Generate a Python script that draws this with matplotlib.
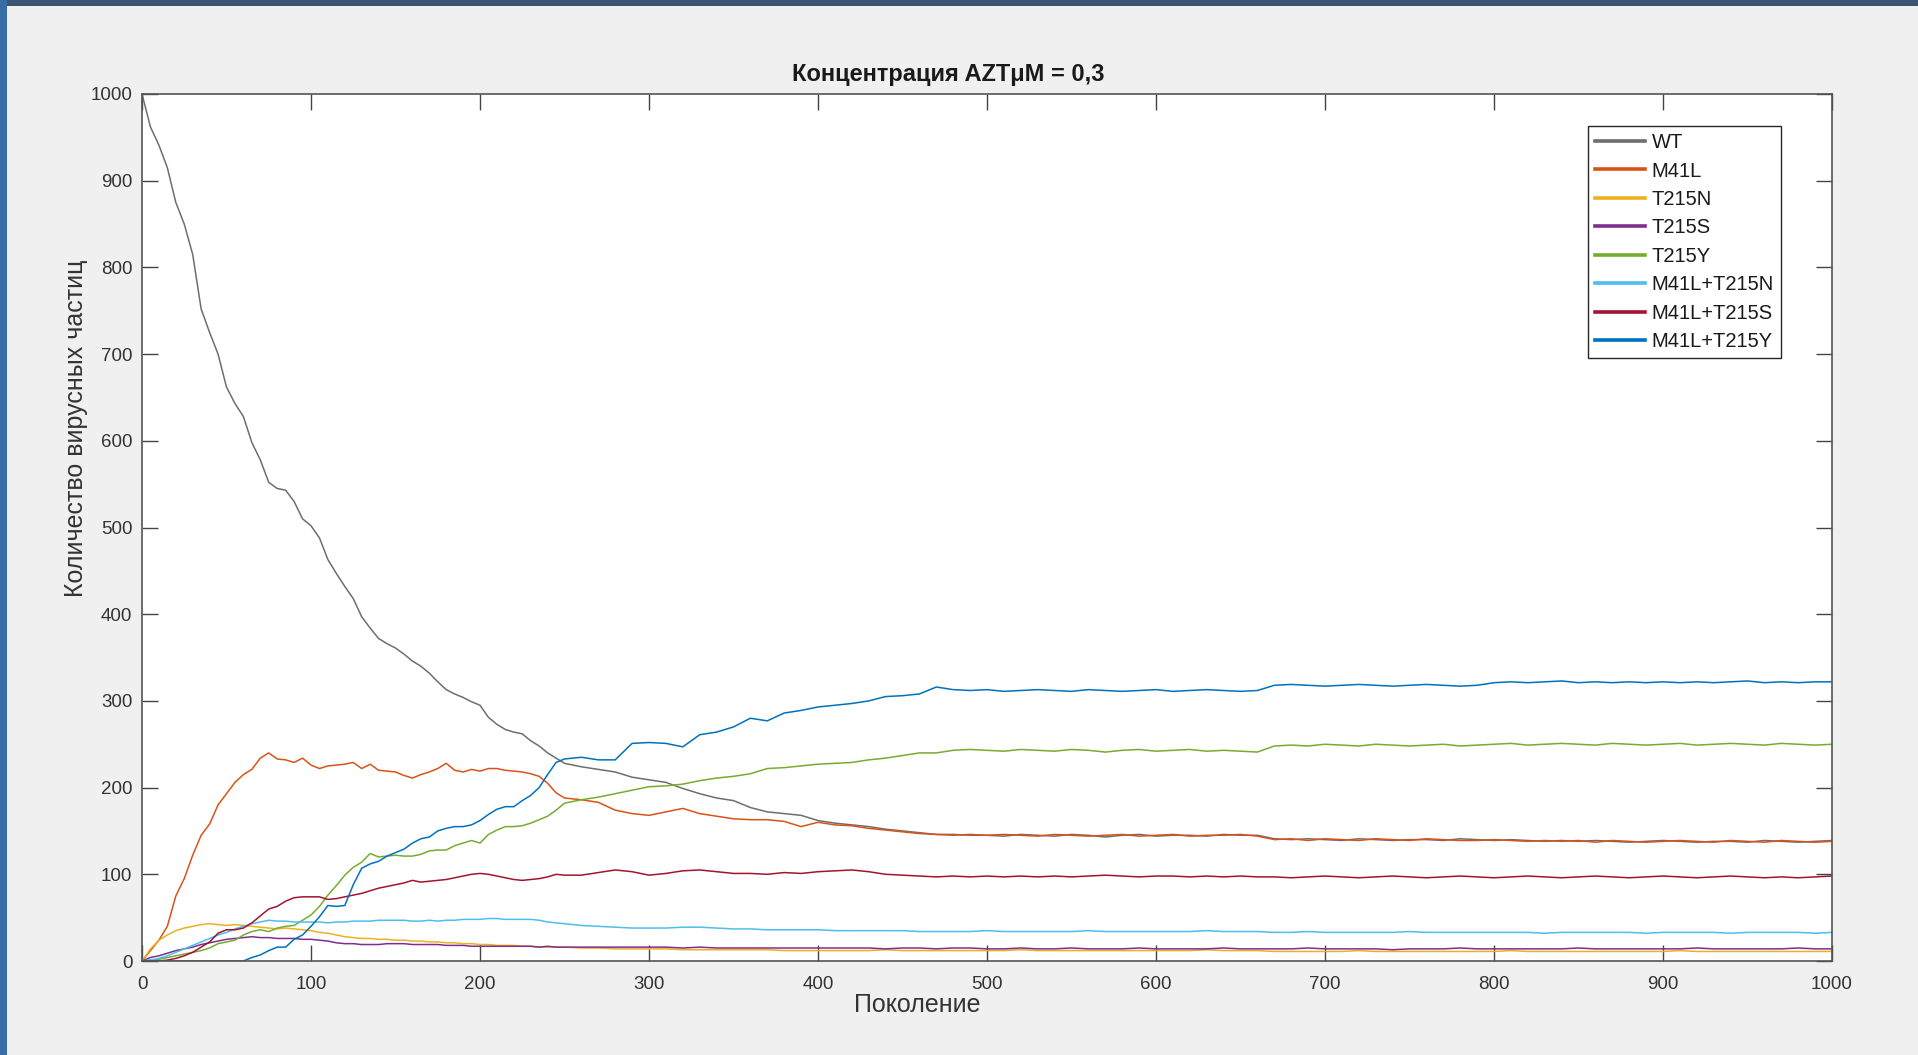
import numpy as np
import matplotlib
matplotlib.use("Agg")
import matplotlib.pyplot as plt
from matplotlib.patches import Rectangle

plt.rcParams['font.family'] = ['Liberation Sans', 'DejaVu Sans']

# Generation grid: every 5 generations up to 250, then every 10
gen = np.concatenate([np.arange(0, 251, 5), np.arange(260, 1001, 10)])

wt = [1000, 962, 941, 915, 875, 850, 815, 752, 725, 700,
      662, 643, 628, 598, 578, 552, 545, 543, 530, 510,
      502, 488, 463, 447, 432, 418, 397, 384, 372, 366,
      361, 354, 346, 340, 332, 322, 313, 308, 304, 299,
      295, 281, 273, 267, 264, 262, 254, 248, 240, 234,
      228,
      224, 221, 218, 212, 209, 206, 199, 193, 188, 185, 177, 172, 170, 168, 162,
      159, 157, 155, 152, 150, 148, 146, 146, 145, 145, 144, 146, 145, 144, 146,
      145, 143, 145, 146, 144, 145, 145, 144, 146, 145, 145,
      141, 140, 141, 140, 139, 141, 140, 139, 140, 140, 139, 141, 140, 139, 140,
      139, 138, 139, 138, 139, 138, 137, 138, 139, 138, 137, 138, 138, 137, 139,
      138, 137, 138, 139]

m41l = [0, 12, 24, 40, 75, 95, 122, 145, 158, 180,
        193, 206, 215, 221, 234, 240, 233, 232, 229, 234,
        226, 222, 225, 226, 227, 229, 222, 227, 220, 219,
        218, 214, 211, 215, 218, 222, 228, 220, 218, 221,
        219, 222, 222, 220, 219, 218, 216, 213, 205, 194,
        188,
        186, 183, 174, 170, 168, 172, 176, 170, 167, 164, 163, 163, 161, 155, 160,
        157, 156, 153, 151, 149, 147, 146, 145, 146, 145, 146, 145, 144, 146, 145,
        144, 145, 146, 144, 145, 146, 144, 145, 145, 146, 144,
        140, 141, 139, 141, 140, 139, 141, 140, 139, 141, 140, 139, 139, 140, 139,
        138, 139, 138, 139, 137, 139, 138, 137, 138, 139, 138, 137, 139, 138, 137,
        139, 138, 137, 138]

t215n = [0, 14, 24, 30, 35, 38, 40, 42, 43, 42,
         41, 42, 41, 40, 39, 38, 37, 38, 37, 36,
         35, 33, 32, 30, 28, 27, 26, 26, 25, 25,
         24, 24, 23, 23, 22, 22, 21, 21, 20, 20,
         19, 19, 18, 18, 18, 17, 17, 16, 16, 16,
         16,
         15, 15, 14, 14, 14, 14, 13, 13, 13, 13, 13, 13, 12, 12, 12,
         12, 12, 12, 13, 12, 12, 12, 12, 12, 12, 12, 13, 12, 12, 12,
         12, 12, 12, 12, 12, 12, 12, 13, 12, 12, 12,
         11, 11, 11, 11, 11, 12, 11, 11, 11, 11, 11, 11, 11, 11, 12,
         11, 11, 11, 11, 11, 11, 11, 11, 11, 12, 11, 11, 11, 11, 11,
         11, 11, 11, 11]

t215s = [0, 4, 6, 9, 12, 14, 16, 19, 21, 23,
         25, 26, 27, 28, 27, 27, 26, 26, 26, 25,
         25, 24, 23, 21, 20, 20, 19, 19, 19, 20,
         20, 20, 19, 19, 19, 19, 18, 18, 18, 17,
         17, 17, 17, 17, 17, 17, 17, 16, 17, 16,
         16,
         16, 16, 16, 16, 16, 16, 15, 16, 15, 15, 15, 15, 15, 15, 15,
         15, 15, 15, 14, 15, 15, 14, 15, 15, 14, 14, 15, 14, 14, 15,
         14, 14, 14, 15, 14, 14, 14, 14, 15, 14, 14,
         14, 14, 15, 14, 14, 14, 14, 13, 14, 14, 14, 15, 14, 14, 14,
         14, 14, 14, 15, 14, 14, 14, 14, 14, 14, 15, 14, 14, 14, 14,
         14, 15, 14, 14]

t215y = [0, 1, 2, 4, 6, 8, 10, 12, 15, 20,
         22, 24, 30, 34, 36, 34, 38, 40, 41, 47,
         53, 63, 76, 87, 99, 108, 114, 124, 120, 121,
         122, 121, 121, 123, 127, 128, 128, 133, 136, 139,
         136, 146, 151, 155, 155, 156, 159, 163, 167, 174,
         182,
         186, 189, 193, 197, 201, 202, 204, 208, 211, 213, 216, 222, 223, 225, 227,
         228, 229, 232, 234, 237, 240, 240, 243, 244, 243, 242, 244, 243, 242, 244,
         243, 241, 243, 244, 242, 243, 244, 242, 243, 242, 241,
         248, 249, 248, 250, 249, 248, 250, 249, 248, 249, 250, 248, 249, 250, 251,
         249, 250, 251, 250, 249, 251, 250, 249, 250, 251, 249, 250, 251, 250, 249,
         251, 250, 249, 250]

m41l_t215n = [0, 1, 3, 6, 10, 14, 18, 22, 26, 30,
              33, 37, 40, 43, 45, 47, 46, 46, 45, 45,
              45, 45, 44, 45, 45, 46, 46, 46, 47, 47,
              47, 47, 46, 46, 47, 46, 47, 47, 48, 48,
              48, 49, 49, 48, 48, 48, 48, 47, 45, 44,
              43,
              41, 40, 39, 38, 38, 38, 39, 39, 38, 37, 37, 36, 36, 36, 36,
              35, 35, 35, 35, 35, 34, 34, 34, 34, 35, 34, 34, 34, 34, 34,
              35, 34, 34, 34, 34, 34, 34, 35, 34, 34, 34,
              33, 33, 34, 33, 33, 33, 33, 33, 34, 33, 33, 33, 33, 33, 33,
              33, 32, 33, 33, 33, 33, 33, 32, 33, 33, 33, 33, 32, 33, 33,
              33, 33, 32, 33]

m41l_t215s = [0, 0, 0, 1, 3, 6, 10, 16, 22, 32,
              36, 36, 38, 44, 52, 60, 63, 69, 73, 74,
              74, 74, 71, 72, 74, 76, 78, 81, 84, 86,
              88, 90, 93, 91, 92, 93, 94, 96, 98, 100,
              101, 100, 98, 96, 94, 93, 94, 95, 97, 100,
              99,
              99, 102, 105, 103, 99, 101, 104, 105, 103, 101, 101, 100, 102, 101, 103,
              104, 105, 103, 100, 99, 98, 97, 98, 97, 98, 97, 98, 97, 98, 97,
              98, 99, 98, 97, 98, 98, 97, 98, 97, 98, 97,
              97, 96, 97, 98, 97, 96, 97, 98, 97, 96, 97, 98, 97, 96, 97,
              98, 97, 96, 97, 98, 97, 96, 97, 98, 97, 96, 97, 98, 97, 96,
              97, 96, 97, 98]

m41l_t215y = [0, 0, 0, 0, 0, 0, 0, 0, 0, 0,
              0, 0, 0, 4, 7, 12, 16, 16, 25, 30,
              40, 51, 64, 63, 64, 88, 107, 112, 115, 121,
              125, 129, 136, 141, 143, 150, 153, 155, 155, 157,
              162, 169, 175, 178, 178, 185, 191, 200, 215, 229,
              233,
              235, 232, 232, 251, 252, 251, 247, 261, 264, 270, 280, 277, 286, 289, 293,
              295, 297, 300, 305, 306, 308, 316, 313, 312, 313, 311, 312, 313, 312, 311,
              313, 312, 311, 312, 313, 311, 312, 313, 312, 311, 312,
              318, 319, 318, 317, 318, 319, 318, 317, 318, 319, 318, 317, 318, 321, 322,
              321, 322, 323, 321, 322, 321, 322, 321, 322, 321, 322, 321, 322, 323, 321,
              322, 321, 322, 322]

labels = ['WT', 'M41L', 'T215N', 'T215S', 'T215Y',
          'M41L+T215N', 'M41L+T215S', 'M41L+T215Y']
series = [wt, m41l, t215n, t215s, t215y, m41l_t215n, m41l_t215s, m41l_t215y]
colors = ['#6e6e6e', '#d95319', '#edb120', '#7e2f8e', '#77ac30',
          '#4dbeee', '#a2142f', '#0072bd']

W, H = 1918, 1055
fig = plt.figure(figsize=(W / 100, H / 100), dpi=100, facecolor='#f0f0f0')

# Slide frame strips at the top and left edge
fig.patches.append(Rectangle((0, 1 - 6 / H), 1, 6 / H, transform=fig.transFigure,
                             facecolor='#3b5572', edgecolor='none', zorder=0))
fig.patches.append(Rectangle((0, 0), 7 / W, 1, transform=fig.transFigure,
                             facecolor='#3a6ca6', edgecolor='none', zorder=0))

ax = fig.add_axes([142 / W, 1 - 961 / H, (1832 - 142) / W, (961 - 94) / H])
ax.set_facecolor('white')

for y, lab, c in zip(series, labels, colors):
    ax.plot(gen, y, color=c, lw=1.1, label=lab)

ax.set_xlim(0, 1000)
ax.set_ylim(0, 1000)
ax.set_xticks(np.arange(0, 1001, 100))
ax.set_yticks(np.arange(0, 1001, 100))
ax.tick_params(direction='in', length=11.5, width=1.0, color='#444444',
               labelcolor='#333333', labelsize=13.5, top=True, right=True)
ax.tick_params(axis='x', pad=11)
ax.tick_params(axis='y', pad=7)
for sp in ax.spines.values():
    sp.set_color('#555555')
    sp.set_linewidth(1.2)

fig.text(948.7 / W, 1 - 74 / H, 'Концентрация AZTμM = 0,3', ha='center', va='center',
         fontsize=17, fontweight='bold', color='#1a1a1a')
fig.text(917 / W, 1 - 1005 / H, 'Поколение', ha='center', va='center',
         fontsize=18, color='#333333')
fig.text(76 / W, 1 - 428 / H, 'Количество вирусных частиц', ha='center', va='center',
         rotation=90, fontsize=18, color='#333333')

leg = ax.legend(loc='upper left', bbox_to_anchor=(1588 / W, 1 - 126 / H),
                bbox_transform=fig.transFigure, frameon=True, fancybox=False,
                edgecolor='#262626', facecolor='white', framealpha=1,
                fontsize=14.5, borderpad=0.35, handlelength=2.5,
                handletextpad=0.3, labelspacing=0.47, borderaxespad=0)
leg.get_frame().set_linewidth(1.0)
for ln in leg.get_lines():
    ln.set_linewidth(2.6)
for t in leg.get_texts():
    t.set_color('#1a1a1a')

fig.savefig('out.png', dpi=100, facecolor=fig.get_facecolor())
